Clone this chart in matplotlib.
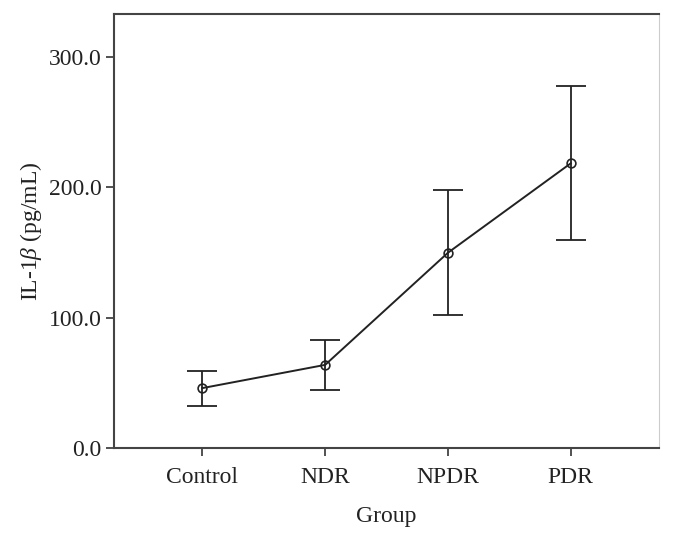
import numpy as np
import matplotlib
matplotlib.use("Agg")
import matplotlib.pyplot as plt

plt.rcParams['font.family'] = ['Liberation Serif', 'DejaVu Serif']
plt.rcParams['mathtext.fontset'] = 'custom'
plt.rcParams['mathtext.rm'] = 'Liberation Serif'
plt.rcParams['mathtext.it'] = 'Liberation Serif:italic'

groups = ["Control", "NDR", "NPDR", "PDR"]
means = [46.0, 63.8, 149.7, 218.2]
upper = [59.2, 82.8, 197.5, 277.2]
lower = [32.4, 44.7, 102.1, 159.2]
yticks = [0, 100, 200, 300]

x = np.arange(len(groups))
means = np.array(means)
yerr = [means - np.array(lower), np.array(upper) - means]

fig = plt.figure(figsize=(6.74, 5.38), dpi=100)
ax = fig.add_axes([0.169, 0.167, 0.809, 0.807])

ink = "#222222"
ax.errorbar(x, means, yerr=yerr, fmt='none', ecolor=ink, elinewidth=1.3,
            capsize=11, capthick=1.3, zorder=2)
ax.plot(x, means, color=ink, lw=1.4, marker='o', markersize=6.3,
        markerfacecolor='none', markeredgecolor=ink, markeredgewidth=1.2, zorder=3)

ax.set_xlim(-0.72, 3.72)
ax.set_ylim(0, 332.6)
ax.set_xticks(x)
ax.set_xticklabels(groups)
ax.set_yticks(yticks)
ax.set_yticklabels([f"{v:.1f}" for v in yticks])
ax.tick_params(axis='both', labelsize=17, length=5.5, width=1.2, color='#333333',
               labelcolor='#222222')
ax.tick_params(axis='x', pad=8)
ax.tick_params(axis='y', pad=3.5)

for side in ['left', 'bottom', 'top']:
    ax.spines[side].set_color('#444444')
    ax.spines[side].set_linewidth(1.5)
ax.spines['right'].set_color('#cccccc')
ax.spines['right'].set_linewidth(0.8)

ax.set_xlabel("Group", fontsize=17, color='#222222', labelpad=13)
ax.set_ylabel(r"IL-1$\it{\beta}$ (pg/mL)", fontsize=17, color='#222222', labelpad=3)

fig.savefig("out.png", dpi=100)
